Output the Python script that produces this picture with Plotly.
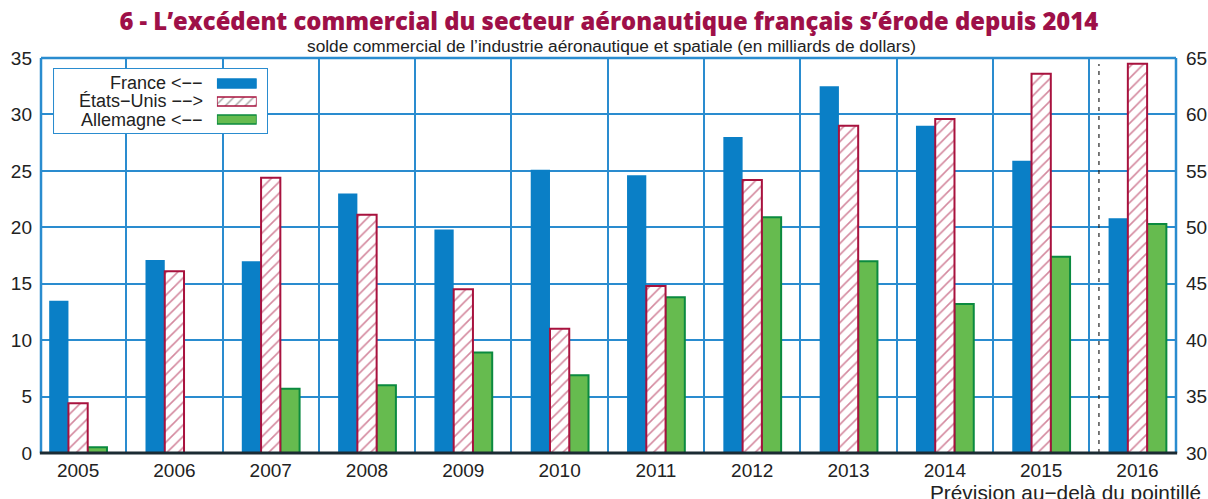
import plotly.graph_objects as go

years = ["2005", "2006", "2007", "2008", "2009", "2010", "2011", "2012", "2013", "2014", "2015", "2016"]
france = [13.5, 17.1, 17.0, 23.0, 19.8, 25.1, 24.6, 28.0, 32.5, 29.0, 25.9, 20.8]
etats_unis = [34.4, 46.1, 54.4, 51.1, 44.5, 41.0, 44.8, 54.2, 59.0, 59.6, 63.6, 64.5]
allemagne = [0.5, None, 5.7, 6.0, 8.9, 6.9, 13.8, 20.9, 17.0, 13.2, 17.4, 20.3]
legend_labels = ["France <\u2212\u2212", "\u00c9tats\u2212Unis \u2212\u2212>", "Allemagne <\u2212\u2212"]

BLUE = "#0a7fc6"
CRIMSON = "#a8123e"
GREEN_FILL = "#66bb4f"
GREEN_LINE = "#0b8a3f"
GRID = "#2a8ccf"
FONT = "Liberation Sans"

W, H = 1208, 499

fig = go.Figure()
fig.add_trace(go.Bar(x=years, y=france, width=0.2, offset=-0.3, marker=dict(color=BLUE, line=dict(width=0)),
                     name="France", yaxis="y", showlegend=False))
fig.add_trace(go.Bar(x=years, y=etats_unis, width=0.2, offset=-0.1,
                     marker=dict(color="white", line=dict(color=CRIMSON, width=2),
                                 pattern=dict(shape="/", fgcolor=CRIMSON, bgcolor="white", size=8, solidity=0.2)),
                     name="États-Unis", yaxis="y2", showlegend=False))
fig.add_trace(go.Bar(x=years, y=allemagne, width=0.2, offset=0.1,
                     marker=dict(color=GREEN_FILL, line=dict(color=GREEN_LINE, width=2)),
                     name="Allemagne", yaxis="y", showlegend=False))

# legend box (white panel) in an inset axis
fig.add_trace(go.Bar(x=[1], y=[1], base=[0], width=[1], xaxis="x3", yaxis="y3",
                     marker=dict(color="white", line=dict(color=GRID, width=2)),
                     showlegend=False, hoverinfo="skip"))

# legend swatches in an inset axis
sw_x = [1, 1, 1]
fig.add_trace(go.Bar(x=sw_x, y=[0, 1, 2], orientation="h", width=0.5, xaxis="x4", yaxis="y4",
                     marker=dict(color=[BLUE, "white", GREEN_FILL],
                                 line=dict(color=[BLUE, CRIMSON, GREEN_LINE], width=1.5),
                                 pattern=dict(shape=["", "/", ""], fgcolor=CRIMSON, bgcolor="white", size=7, solidity=0.2)),
                     showlegend=False, hoverinfo="skip"))

fig.update_layout(
    width=W, height=H,
    margin=dict(l=41, r=32, t=58, b=46, autoexpand=False),
    paper_bgcolor="white", plot_bgcolor="white",
    font=dict(family=FONT, size=19, color="#222222"),
    barmode="overlay",
    title=dict(text="6 - L\u2019exc\u00e9dent commercial du secteur a\u00e9ronautique fran\u00e7ais s\u2019\u00e9rode depuis 2014",
               x=0.504, xanchor="center", y=1 - 22 / H, yanchor="middle",
               font=dict(family="Open Sans", size=23.8, color="#9e1048", weight=800)),
    xaxis=dict(type="category", range=[-0.385, 11.4], tickson="boundaries", showgrid=True,
               gridcolor=GRID, gridwidth=1.5, ticks="", showline=False, zeroline=False,
               ticklabelstandoff=4, tickfont=dict(size=19, color="#222")),
    yaxis=dict(range=[0, 35], dtick=5, showgrid=True, gridcolor=GRID, gridwidth=1.5,
               zeroline=False, showline=False, ticks="", ticklabelstandoff=8,
               tickfont=dict(size=19, color="#222")),
    yaxis2=dict(range=[30, 65], dtick=5, overlaying="y", side="right", showgrid=False,
                zeroline=False, showline=False, ticks="", ticklabelstandoff=9,
                tickfont=dict(size=19, color="#222")),
    xaxis3=dict(domain=[0.0106, 0.2], range=[0.5, 1.5], anchor="y3", visible=False, fixedrange=True),
    yaxis3=dict(domain=[0.8076, 0.9747], range=[0, 1], anchor="x3", visible=False, fixedrange=True),
    xaxis4=dict(domain=[0.155, 0.190], range=[0, 1], anchor="y4", visible=False, fixedrange=True),
    yaxis4=dict(domain=[0.8215, 0.958], range=[2.5, -0.5], anchor="x4", visible=False, fixedrange=True),
)

shapes = [
    dict(type="line", xref="paper", yref="paper", x0=0, x1=1, y0=1, y1=1, line=dict(color=GRID, width=2.5)),
    dict(type="line", xref="paper", yref="paper", x0=0, x1=0, y0=0, y1=1, line=dict(color=GRID, width=2.5)),
    dict(type="line", xref="paper", yref="paper", x0=1, x1=1, y0=0, y1=1, line=dict(color=GRID, width=2.5)),
    dict(type="line", xref="x", yref="paper", x0=10.6, x1=10.6, y0=0, y1=0.985,
         line=dict(color="#222", width=1.2, dash="4px,5px")),
    dict(type="line", xref="paper", yref="paper", x0=-0.001, x1=1.001, y0=0, y1=0, line=dict(color="#1b2b33", width=3)),
]
fig.update_layout(shapes=shapes)

ann = [
    dict(text="solde commercial de l\u2019industrie a\u00e9ronautique et spatiale (en milliards de dollars)",
         xref="paper", yref="paper", x=0.503, y=1.030, xanchor="center", yanchor="middle",
         showarrow=False, font=dict(family=FONT, size=17.3, color="#222")),
    dict(text="Pr\u00e9vision au\u2212del\u00e0 du pointill\u00e9", xref="paper", yref="paper", x=1.024, y=-0.1,
         xanchor="right", yanchor="middle", showarrow=False, font=dict(family=FONT, size=20.8, color="#222")),
]
ys = [0.9367, 0.891, 0.843]
for lab, yy in zip(legend_labels, ys):
    ann.append(dict(text=lab, xref="paper", yref="paper", x=0.1445, y=yy, xanchor="right", yanchor="middle",
                    align="right", showarrow=False, font=dict(family=FONT, size=18, color="#222")))
fig.update_layout(annotations=ann)

# remove the browser's default 8px page margin so the figure sits at the window origin
fig.write_html("out.html", config={"displayModeBar": False},
               post_script="document.body.style.margin='0px';document.body.style.overflow='hidden';")
